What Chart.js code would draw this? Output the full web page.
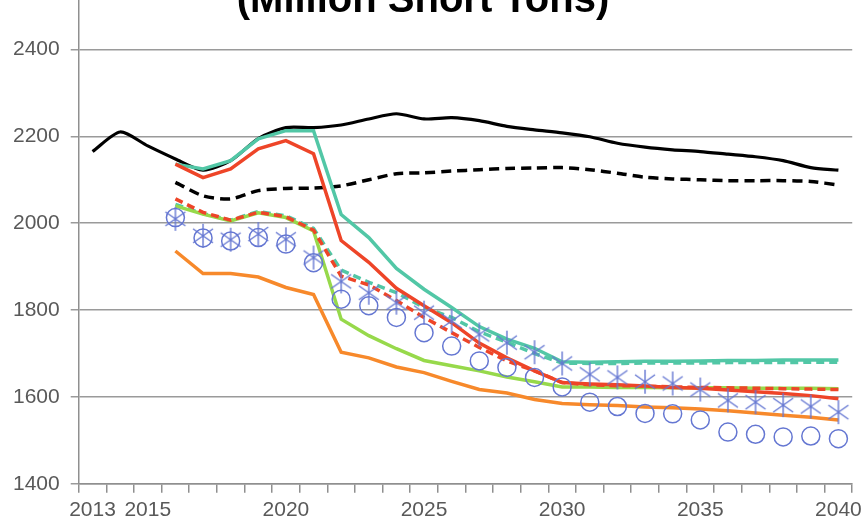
<!DOCTYPE html>
<html>
<head>
<meta charset="utf-8">
<script src="https://cdn.jsdelivr.net/npm/chart.js@4"></script>
<style>
  html, body { margin: 0; padding: 0; background: #fff; overflow: hidden; }
  #wrap { position: relative; width: 863px; height: 522px; overflow: hidden; }
  #c { position: absolute; left: 0; top: -61px; }
</style>
</head>
<body>
<div id="wrap"><canvas id="c" width="867" height="589"></canvas></div>
<script>
const years = [];
for (let y = 2013; y <= 2040; y++) years.push(String(y));
const shownYears = ['2013', '2015', '2020', '2025', '2030', '2035', '2040'];
const pad = [null, null, null];

// values in million short tons
const blackSolid = [2165, 2210, 2178, 2148, 2122, 2144, 2195, 2220, 2220, 2226, 2240, 2252, 2240, 2243, 2236, 2223, 2215, 2208, 2199, 2184, 2175, 2169, 2165, 2159, 2153, 2144, 2128, 2122];
const blackDashed = pad.concat([2094, 2063, 2056, 2075, 2080, 2081, 2086, 2100, 2114, 2116, 2120, 2123, 2126, 2127, 2128, 2123, 2115, 2106, 2102, 2100, 2098, 2098, 2098, 2096, 2088]);
const tealSolid = pad.concat([2136, 2125, 2144, 2194, 2213, 2213, 2020, 1967, 1896, 1848, 1806, 1762, 1733, 1712, 1681, 1680, 1681, 1682, 1682, 1683, 1684, 1684, 1685, 1685, 1685]);
const tealDashed = pad.concat([2043, 2022, 2007, 2027, 2017, 1988, 1892, 1864, 1840, 1806, 1783, 1750, 1726, 1700, 1678, 1677, 1677, 1678, 1678, 1678, 1679, 1679, 1679, 1680, 1680]);
const redSolid = pad.concat([2136, 2105, 2125, 2171, 2190, 2160, 1960, 1910, 1850, 1810, 1771, 1724, 1690, 1660, 1633, 1630, 1628, 1625, 1622, 1620, 1616, 1612, 1608, 1603, 1596]);
const redDashed = pad.concat([2056, 2025, 2007, 2025, 2015, 1984, 1878, 1858, 1822, 1783, 1748, 1714, 1683, 1660, 1633, 1628, 1626, 1625, 1623, 1622, 1621, 1620, 1619, 1618, 1617]);
const greenSolid = pad.concat([2040, 2021, 2005, 2024, 2013, 1982, 1779, 1741, 1711, 1684, 1672, 1660, 1646, 1635, 1623, 1623, 1622, 1622, 1621, 1621, 1621, 1620, 1620, 1620, 1619]);
const orangeSolid = pad.concat([1936, 1884, 1884, 1876, 1852, 1836, 1703, 1690, 1669, 1656, 1636, 1617, 1609, 1594, 1585, 1582, 1580, 1577, 1575, 1572, 1568, 1563, 1558, 1553, 1547]);
const blueCircles = pad.concat([2013, 1966, 1959, 1967, 1952, 1909, 1825, 1810, 1783, 1748, 1717, 1683, 1668, 1645, 1623, 1588, 1578, 1562, 1561, 1547, 1519, 1514, 1508, 1510, 1504]);
const blueStars = pad.concat([2010, 1971, 1962, 1975, 1963, 1921, 1866, 1840, 1817, 1794, 1775, 1744, 1725, 1703, 1677, 1652, 1645, 1635, 1631, 1617, 1592, 1588, 1581, 1578, 1565]);

const BLUE = '#6577d2';

// star marker: X plus a vertical bar
function starMarker() {
    const cv = document.createElement('canvas');
    cv.width = 26; cv.height = 26;
    const g = cv.getContext('2d');
    g.strokeStyle = BLUE;
    g.lineWidth = 1.4;
    g.beginPath();
    g.moveTo(3, 6); g.lineTo(23, 20);
    g.moveTo(23, 6); g.lineTo(3, 20);
    g.moveTo(13, 1); g.lineTo(13, 25);
    g.stroke();
    return cv;
}

function line(data, color, dash, width) {
    return {
        data: data,
        borderColor: color,
        backgroundColor: color,
        borderWidth: width || 3.5,
        borderDash: dash || [],
        pointRadius: 0,
        tension: 0,
        fill: false,
        spanGaps: false
    };
}

const titlePlugin = {
    id: 'topTitle',
    afterDraw(chart) {
        const ctx = chart.ctx;
        ctx.save();
        ctx.font = 'bold 40px "Liberation Sans", Arial, sans-serif';
        ctx.fillStyle = '#000';
        ctx.textAlign = 'center';
        ctx.textBaseline = 'alphabetic';
        ctx.fillText('(Million Short Tons)', 423, 61 + 12);
        ctx.restore();
    }
};

const blackLine = line(blackSolid, '#000000', [], 3.2);
blackLine.tension = 0.25;
const blackDash = line(blackDashed, '#000000', [10, 6], 3.5);
blackDash.tension = 0.25;

const axisFont = { family: '"Liberation Sans", Arial, sans-serif', size: 21 };

new Chart(document.getElementById('c'), {
    type: 'line',
    data: {
        labels: years,
        datasets: [
            {
                data: blueStars,
                showLine: false,
                pointStyle: starMarker(),
                pointRadius: 12,
                borderColor: BLUE,
                backgroundColor: 'transparent'
            },
            {
                data: blueCircles,
                showLine: false,
                pointStyle: 'circle',
                pointRadius: 9,
                borderWidth: 1.5,
                borderColor: BLUE,
                backgroundColor: 'transparent'
            },
            line(redSolid, '#ee4528'),
            line(redDashed, '#ee4528', [8, 5]),
            line(greenSolid, '#97d94b'),
            line(orangeSolid, '#f7892b'),
            line(tealSolid, '#52c7a6'),
            line(tealDashed, '#52c7a6', [8, 5]),
            blackLine,
            blackDash
        ]
    },
    options: {
        responsive: false,
        animation: false,
        devicePixelRatio: 1,
        layout: { padding: { left: 2, right: 11, top: 0, bottom: 0 } },
        plugins: {
            legend: { display: false },
            title: { display: false },
            tooltip: { enabled: false }
        },
        scales: {
            x: {
                offset: true,
                grid: {
                    offset: true,
                    drawOnChartArea: false,
                    drawTicks: true,
                    tickLength: 9,
                    color: '#8f8f8f',
                    lineWidth: 1.5
                },
                border: { display: true, color: '#8f8f8f', width: 1.5 },
                ticks: {
                    autoSkip: false,
                    maxRotation: 0,
                    padding: 5,
                    color: '#595959',
                    font: axisFont,
                    callback: function (v) {
                        const lab = this.getLabelForValue(v);
                        return shownYears.includes(lab) ? lab : '';
                    }
                }
            },
            y: {
                min: 1400,
                max: 2600,
                grid: {
                    color: '#9a9a9a',
                    lineWidth: 1.5,
                    tickLength: 8
                },
                border: { display: true, color: '#8f8f8f', width: 1.5 },
                ticks: {
                    stepSize: 200,
                    padding: 11,
                    color: '#595959',
                    font: axisFont,
                    callback: v => String(v)
                }
            }
        }
    },
    plugins: [titlePlugin]
});
</script>
</body>
</html>
